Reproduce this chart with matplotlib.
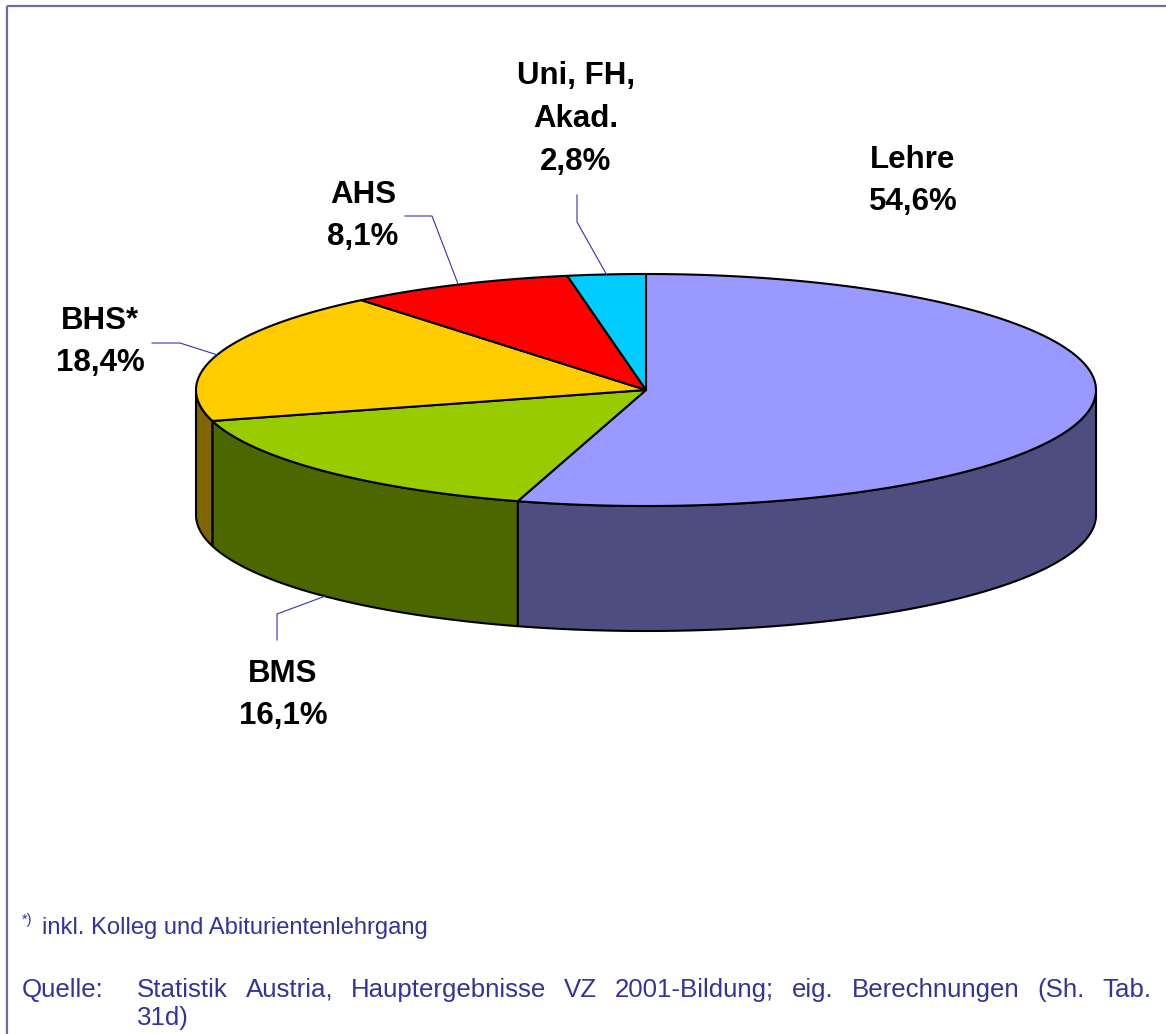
import numpy as np
import matplotlib.pyplot as plt
from matplotlib.patches import Polygon

# data
names = ["Lehre", "BMS", "BHS*", "AHS", "Uni, FH,\nAkad."]
shares = [54.6, 16.1, 18.4, 8.1, 2.8]
top_colors = ["#9999FF", "#99CC00", "#FFCC00", "#FF0000", "#00CCFF"]
side_colors = ["#4D4D7F", "#4C6600", "#806600", "#800000", "#006680"]

note_text = "inkl. Kolleg und Abiturientenlehrgang"
source_head = "Quelle:"
source_line = "Statistik Austria, Hauptergebnisse VZ 2001-Bildung; eig. Berechnungen (Sh. Tab."
source_tail = "31d)"

plt.rcParams["font.family"] = ["Liberation Sans", "DejaVu Sans"]

W, H = 1166, 1034
fig = plt.figure(figsize=(W / 100, H / 100), dpi=100)
ax = fig.add_axes([0, 0, 1, 1])
ax.set_xlim(0, W)
ax.set_ylim(H, 0)
ax.axis("off")

# pie geometry (pixels)
cx, cy, rx, ry, depth = 646, 390, 450, 116, 125


def ell(t, dy=0.0):
    return np.column_stack([cx + rx * np.sin(t), cy - ry * np.cos(t) + dy])


edges = np.radians(np.concatenate([[0], np.cumsum(shares)]) * 3.6)

# side walls, front half only
for i in range(len(shares)):
    a, b = max(edges[i], np.pi / 2), min(edges[i + 1], 3 * np.pi / 2)
    if a >= b:
        continue
    t = np.linspace(a, b, 300)
    pts = np.vstack([ell(t), ell(t[::-1], depth)])
    ax.add_patch(Polygon(pts, closed=True, fc=side_colors[i], ec="black",
                         lw=1.5, joinstyle="round"))

# top faces
for i in range(len(shares)):
    t = np.linspace(edges[i], edges[i + 1], 300)
    pts = np.vstack([[cx, cy], ell(t)])
    ax.add_patch(Polygon(pts, closed=True, fc=top_colors[i], ec="black",
                         lw=1.5, joinstyle="round"))

# labels: text centre, leader (elbow, end) -- layout only
lab_pos = [(913, 181), (283, 695), (100, 342), (363, 216), (576, 119)]
leaders = [None,
           [(277, 614), (277, 640)],
           [(180, 343), (152, 343)],
           [(432, 216), (405, 216)],
           [(577, 222), (577, 195)]]

for i, (nm, v) in enumerate(zip(names, shares)):
    txt = nm + "\n" + f"{v:.1f}".replace(".", ",") + "%"
    ax.text(lab_pos[i][0], lab_pos[i][1], txt, ha="center", va="center",
            fontsize=22.5, fontweight="bold", color="black", linespacing=1.55)
    if leaders[i] is None:
        continue
    mid = (edges[i] + edges[i + 1]) / 2
    dy = depth if np.cos(mid) < 0 else 0
    anchor = ell(np.array([mid]), dy)[0]
    xs = [anchor[0]] + [p[0] for p in leaders[i]]
    ys = [anchor[1]] + [p[1] for p in leaders[i]]
    ax.plot(xs, ys, color="#3333AA", lw=0.8)

# frame (left and top only visible)
ax.plot([7, 7], [H, 6], color="#6B6BA8", lw=1.6, solid_capstyle="butt")
ax.plot([7, W], [6, 6], color="#6B6BA8", lw=1.6, solid_capstyle="butt")

# footnotes
fc = "#333399"
ax.text(22, 920, "*)", fontsize=10.5, color=fc, ha="left", va="center")
ax.text(42, 928, note_text, fontsize=17.1, color=fc, ha="left", va="center")
ax.text(22, 990, source_head, fontsize=18.6, color=fc, ha="left", va="center")

# justified source line
words = source_line.split(" ")
r = fig.canvas.get_renderer()
objs = [ax.text(0, 990, w, fontsize=18.6, color=fc, ha="left", va="center") for w in words]
widths = [o.get_window_extent(renderer=r).width for o in objs]
x0, x1 = 137, 1151
gap = (x1 - x0 - sum(widths)) / (len(words) - 1)
x = x0
for o, wd in zip(objs, widths):
    o.set_x(x)
    x += wd + gap
ax.text(137, 1018, source_tail, fontsize=18.6, color=fc, ha="left", va="center")

fig.savefig("out.png", dpi=100)
